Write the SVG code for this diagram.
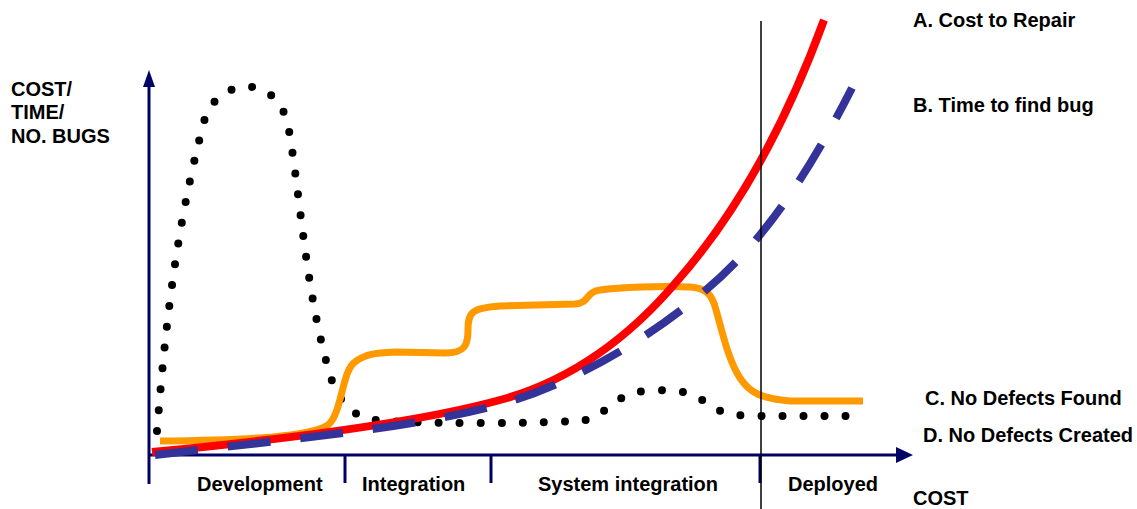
<svg xmlns="http://www.w3.org/2000/svg" width="1137" height="509" viewBox="0 0 1137 509">
  <style>
    text { font-family: "Liberation Sans", Arial, sans-serif; font-weight: bold; font-size: 20px; fill: #000; }
    .axis { stroke: #000066; stroke-width: 3; fill: none; }
    .arrow { fill: #000066; }
    .dots { fill: none; stroke: #000; stroke-width: 8; stroke-linecap: round; stroke-dasharray: 0 21; }
    .found { fill: none; stroke: #ff9900; stroke-width: 7; stroke-linecap: butt; }
    .repair { fill: none; stroke: #ff0000; stroke-width: 8; }
    .time { fill: none; stroke: #333399; stroke-width: 8; stroke-dasharray: 43 30; }
  </style>
  <rect width="1137" height="509" fill="#fff"/>

  <g id="axes">
    <line class="axis" x1="149" y1="84" x2="149" y2="484"/>
    <polygon class="arrow" points="149,70 143,87 155,87"/>
    <line class="axis" x1="148" y1="455" x2="898" y2="455"/>
    <polygon class="arrow" points="913,455 896,447 896,463"/>
    <line class="axis" x1="345" y1="455" x2="345" y2="483"/>
    <line class="axis" x1="491" y1="455" x2="491" y2="483"/>
    <line class="axis" x1="760" y1="455" x2="760" y2="483"/>
  </g>

  <g id="curve-d-defects-created">
    <path class="dots" d="M157,431 C163,360 172,240 205,118 C218,80 275,70 288,125 C300,190 305,290 330,375 C338,400 350,416 375,420 C400,424 560,424 585,420 C605,417 615,393 645,391 C670,389 690,390 705,402 C720,414 735,416 760,416 L856,416"/>
  </g>

  <g id="curve-c-defects-found">
    <path class="found" d="M160,441 C250,440 310,437 328,425 C342,414 342,370 355,362 C365,354 375,353 395,352 L445,353 C465,353 468,345 468,330 C468,312 472,308 500,306 L575,304 C590,303 585,292 600,290 C620,287 660,286 690,287 C705,288 712,293 716,310 C722,330 728,360 740,378 C750,393 760,398 790,401 L863,401"/>
  </g>

  <g id="curve-a-cost-to-repair">
    <path class="repair" d="M152,452 C300,438 420,422 500,400 C570,381 630,337 678,280 C728,223 780,140 824,20"/>
  </g>

  <g id="curve-b-time-to-find-bug">
    <path class="time" d="M155,455 C280,440 400,430 490,407 C560,390 640,345 700,295 C755,250 800,190 852,88"/>
  </g>

  <g id="deploy-line">
    <line x1="761" y1="21" x2="761" y2="509" stroke="#000" stroke-width="1.5"/>
  </g>

  <g id="y-axis-label">
    <text x="11" y="96">COST/</text>
    <text x="11" y="119">TIME/</text>
    <text x="11" y="143">NO. BUGS</text>
  </g>

  <g id="phase-labels">
    <text x="197" y="491">Development</text>
    <text x="362" y="491">Integration</text>
    <text x="538" y="491">System integration</text>
    <text x="788" y="491">Deployed</text>
  </g>

  <g id="x-axis-label">
    <text x="913" y="505">COST</text>
  </g>

  <g id="legend">
    <text x="913" y="27">A. Cost to Repair</text>
    <text x="913" y="112">B. Time to find bug</text>
    <text x="925" y="405">C. No Defects Found</text>
    <text x="923" y="442">D. No Defects Created</text>
  </g>
</svg>
